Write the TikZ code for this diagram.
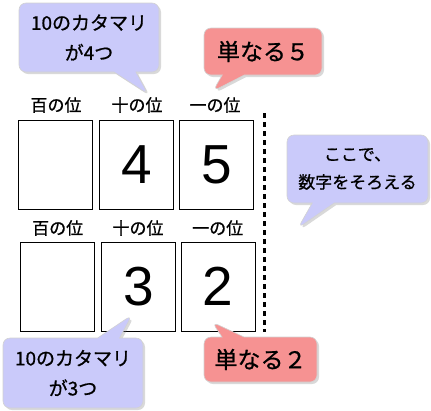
\documentclass[tikz,border=0pt]{standalone}
\usepackage{fontspec}
\setmainfont{Noto Sans CJK JP}[FakeBold=0.8]
\newfontfamily\digitfont{Liberation Sans}
\usetikzlibrary{shapes.callouts,shadows}

\definecolor{noteblue}{RGB}{202,202,250}
\definecolor{notered}{RGB}{246,146,146}

\tikzset{
  placebox/.style={draw, line width=0.8pt, minimum width=74pt, minimum height=89pt,
    inner sep=0pt, font=\digitfont\fontsize{55}{55}\selectfont},
  placelabel/.style={inner sep=0pt, font=\fontsize{17}{17}\selectfont},
  note/.style={rectangle callout, rounded corners=7pt, inner sep=0pt, align=center,
    callout pointer width=22pt, draw=gray!35, line width=0.6pt,
    drop shadow={opacity=.3, shadow xshift=2pt, shadow yshift=-2pt}},
  bluenote/.style={note, fill=noteblue, font=\fontsize{19}{30}\selectfont},
  rednote/.style={note, fill=notered, font=\fontsize{23}{23}\selectfont}
}

\begin{document}
\begin{tikzpicture}[x=1pt, y=-1pt]
	\useasboundingbox (0,0) rectangle (431,410);
	% upper row: 45
	\node[placelabel] (hundA) at (56,105) {百の位};
	\node[placelabel] (tenA) at (137,105) {十の位};
	\node[placelabel] (oneA) at (215,105) {一の位};
	\node[placebox] (boxhundA) at (55.3,165) {};
	\node[placebox] (boxtenA) at (136.3,165) {4};
	\node[placebox] (boxoneA) at (216.3,165) {5};
	% lower row: 32
	\node[placelabel] (hundB) at (57.7,228) {百の位};
	\node[placelabel] (tenB) at (138,228) {十の位};
	\node[placelabel] (oneB) at (217.7,228) {一の位};
	\node[placebox] (boxhundB) at (57.2,286.7) {};
	\node[placebox] (boxtenB) at (138.5,286.7) {3};
	\node[placebox] (boxoneB) at (218.2,286.7) {2};
	% dotted separator
	\coordinate (sepTop) at (264.3,113);
	\coordinate (sepBot) at (264.3,332);
	\draw[line width=3pt, dash pattern=on 5pt off 4pt] (sepTop) -- (sepBot);
	% callouts
	\node[bluenote, minimum width=140pt, minimum height=69pt,
		callout absolute pointer={(148,94)}] (tensA) at (89,37.5) {10のカタマリ\\が4つ};
	\node[rednote, minimum width=118pt, minimum height=47pt,
		callout absolute pointer={(213,91)}] (unitsA) at (263,51.5) {単なる５};
	\node[bluenote, minimum width=141pt, minimum height=68pt, font=\fontsize{17}{28}\selectfont,
		callout absolute pointer={(298,228)}] (align) at (357.5,169) {ここで、\\数字をそろえる};
	\node[bluenote, minimum width=140pt, minimum height=70pt,
		callout absolute pointer={(132,315)}] (tensB) at (73,373) {10のカタマリ\\が3つ};
	\node[rednote, minimum width=113pt, minimum height=45pt,
		callout absolute pointer={(212,322)}] (unitsB) at (260.5,359.5) {単なる２};
\end{tikzpicture}
\end{document}
